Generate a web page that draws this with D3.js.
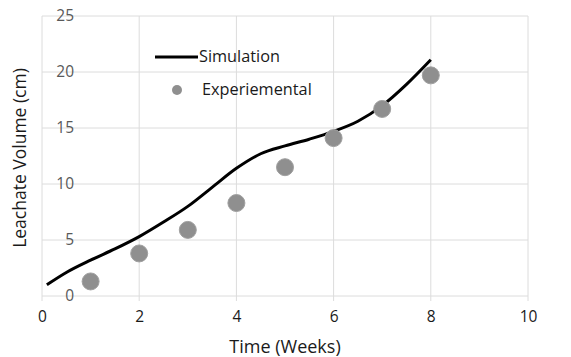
<!DOCTYPE html>
<html><head><meta charset="utf-8">
<script src="https://cdn.jsdelivr.net/npm/d3@7"></script>
<style>body{margin:0;background:#fff}svg{display:block}</style>
</head><body>
<svg id="c" width="571" height="357"></svg>
<script>
const simTime  = [0.1, 0.5, 1, 1.5, 2, 2.5, 3, 3.5, 4, 4.5, 5, 5.5, 6, 6.5, 7, 7.5, 8];
const simValue = [1.0, 2.1, 3.2, 4.2, 5.3, 6.6, 8.0, 9.7, 11.4, 12.7, 13.4, 14.0, 14.7, 15.6, 17.0, 18.9, 21.1];
const expTime  = [1, 2, 3, 4, 5, 6, 7, 8];
const expValue = [1.3, 3.8, 5.9, 8.3, 11.5, 14.1, 16.7, 19.7];
const xTicks = [0, 2, 4, 6, 8, 10];
const yTicks = [0, 5, 10, 15, 20, 25];
const seriesNames = ["Simulation", "Experiemental"];

const svg = d3.select("#c");
const font = "'Open Sans', sans-serif";
const x = d3.scaleLinear().domain([0, 10]).range([42, 528]);
const y = d3.scaleLinear().domain([0, 25]).range([296, 16]);

// gridlines
svg.append("g").selectAll("line").data(xTicks).join("line")
  .attr("x1", d => x(d)).attr("x2", d => x(d))
  .attr("y1", y(25)).attr("y2", y(0) + 5)
  .attr("stroke", "#dcdcdc").attr("stroke-width", 1);
svg.append("g").selectAll("line").data(yTicks).join("line")
  .attr("x1", x(0)).attr("x2", x(10))
  .attr("y1", d => y(d)).attr("y2", d => y(d))
  .attr("stroke", "#dcdcdc").attr("stroke-width", 1);

// axes via d3
const xAxis = svg.append("g").attr("transform", `translate(0,${y(0)})`)
  .call(d3.axisBottom(x).tickValues(xTicks).tickSize(0).tickPadding(15));
xAxis.select(".domain").remove();
xAxis.selectAll("text").attr("font-family", font).attr("font-size", 15.5).attr("fill", "#1a1a1a");

const yAxis = svg.append("g").attr("transform", `translate(${x(0) + 32},0)`)
  .call(d3.axisLeft(y).tickValues(yTicks).tickSize(0).tickPadding(0));
yAxis.select(".domain").remove();
yAxis.selectAll("text").attr("font-family", font).attr("font-size", 15.5).attr("fill", "#595959");

// axis titles
svg.append("text").attr("x", 285).attr("y", 353).attr("text-anchor", "middle")
  .attr("font-family", font).attr("font-size", 18).attr("fill", "#1a1a1a").text("Time (Weeks)");
svg.append("text").attr("transform", "translate(26,158) rotate(-90)").attr("text-anchor", "middle")
  .attr("font-family", font).attr("font-size", 17.5).attr("fill", "#1a1a1a").text("Leachate Volume (cm)");

// simulation line
const simData = simTime.map((t, i) => [t, simValue[i]]);
svg.append("path").datum(simData)
  .attr("d", d3.line().x(d => x(d[0])).y(d => y(d[1])).curve(d3.curveMonotoneX))
  .attr("fill", "none").attr("stroke", "#000").attr("stroke-width", 3);

// experimental points
svg.append("g").selectAll("circle").data(expTime.map((t, i) => [t, expValue[i]])).join("circle")
  .attr("cx", d => x(d[0])).attr("cy", d => y(d[1])).attr("r", 8.5)
  .attr("fill", "#8f8f8f").attr("stroke", "#a0a0a0").attr("stroke-width", 1);

// legend
const lg = svg.append("g");
lg.append("line").attr("x1", 155).attr("x2", 198).attr("y1", 57).attr("y2", 57)
  .attr("stroke", "#000").attr("stroke-width", 3);
lg.append("text").attr("x", 199).attr("y", 62).attr("font-family", font).attr("font-size", 16.3)
  .attr("fill", "#1a1a1a").text(seriesNames[0]);
lg.append("circle").attr("cx", 177).attr("cy", 90).attr("r", 5).attr("fill", "#8f8f8f");
lg.append("text").attr("x", 202).attr("y", 95).attr("font-family", font).attr("font-size", 16.3)
  .attr("fill", "#1a1a1a").text(seriesNames[1]);
</script>
</body></html>
